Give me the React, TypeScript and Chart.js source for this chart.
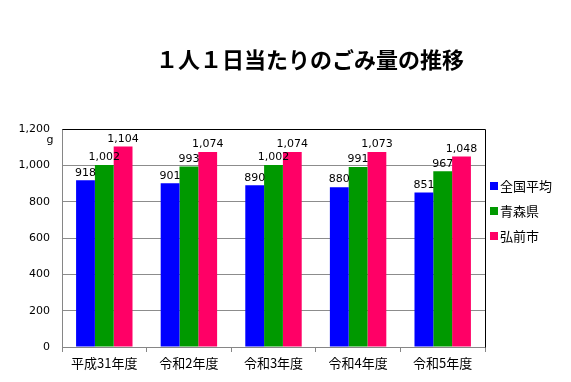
import React, { useEffect, useRef } from "react";
import { Chart, registerables } from "chart.js";

Chart.register(...registerables);

const categories = ["平成31年度", "令和2年度", "令和3年度", "令和4年度", "令和5年度"];
const national = [918, 901, 890, 880, 851];
const aomori = [1002, 993, 1002, 991, 967];
const hirosaki = [1104, 1074, 1074, 1073, 1048];
const seriesNames = ["全国平均", "青森県", "弘前市"];
const seriesColors = ["#0000FF", "#009900", "#FF0066"];
const titleText = "１人１日当たりのごみ量の推移";
const unitText = "g";

const JP = "'Noto Sans CJK JP', sans-serif";
const NUM = "'DejaVu Sans', sans-serif";

const fmt = (v: number) => v.toLocaleString("en-US");

const decorPlugin = {
  id: "decor",
  afterDatasetsDraw(chart: any) {
    const ctx = chart.ctx;
    const area = chart.chartArea;
    ctx.save();
    // data labels
    ctx.font = "11px " + NUM;
    ctx.fillStyle = "#000";
    ctx.textAlign = "center";
    ctx.textBaseline = "bottom";
    chart.data.datasets.forEach((ds: any, i: number) => {
      const meta = chart.getDatasetMeta(i);
      meta.data.forEach((el: any, j: number) => {
        ctx.fillText(fmt(ds.data[j]), el.x, el.y - 2);
      });
    });
    // top & right border
    ctx.strokeStyle = "#000";
    ctx.lineWidth = 1;
    ctx.beginPath();
    ctx.moveTo(Math.round(area.left) + 0.5, Math.round(area.top) + 0.5);
    ctx.lineTo(Math.round(area.right) + 0.5, Math.round(area.top) + 0.5);
    ctx.lineTo(Math.round(area.right) + 0.5, Math.round(area.bottom) + 0.5);
    ctx.stroke();
    // title
    ctx.font = "bold 22px " + JP;
    ctx.textAlign = "center";
    ctx.textBaseline = "middle";
    ctx.fillText(titleText, 310, 60);
    // unit
    ctx.font = "11px " + NUM;
    ctx.textAlign = "center";
    ctx.fillText(unitText, 50, 140);
    // legend
    seriesNames.forEach((n, i) => {
      const y = 186 + i * 25;
      ctx.fillStyle = seriesColors[i];
      ctx.fillRect(490, y - 4, 8, 8);
      ctx.fillStyle = "#000";
      ctx.font = "13px " + JP;
      ctx.textAlign = "left";
      ctx.fillText(n, 500, y);
    });
    ctx.restore();
  },
};

export default function App() {
  const ref = useRef<HTMLCanvasElement>(null);
  useEffect(() => {
    document.body.style.margin = "0";
    const chart = new Chart(ref.current!, {
      type: "bar",
      data: {
        labels: categories,
        datasets: [national, aomori, hirosaki].map((d, i) => ({
          label: seriesNames[i],
          data: d,
          backgroundColor: seriesColors[i],
          borderWidth: 0,
          categoryPercentage: 0.667,
          barPercentage: 1,
        })),
      },
      options: {
        responsive: false,
        animation: false,
        layout: { padding: { left: 0, right: 86, top: 129, bottom: 0 } },
        plugins: { legend: { display: false }, title: { display: false }, tooltip: { enabled: false } },
        scales: {
          x: {
            grid: { display: true, drawOnChartArea: false, drawTicks: true, tickLength: 5, color: "#868686", offset: true },
            border: { color: "#868686" },
            ticks: { color: "#000", font: { family: JP, size: 13 }, padding: 3, maxRotation: 0 },
            afterFit: (s: any) => { s.height = 35; },
          },
          y: {
            min: 0,
            max: 1200,
            ticks: { stepSize: 200, color: "#000", font: { family: NUM, size: 11 }, padding: 12, callback: (v: any) => fmt(Number(v)) },
            grid: { color: "#8c8c8c", drawTicks: false },
            border: { color: "#868686" },
            afterFit: (s: any) => { s.width = 62; },
          },
        },
      },
      plugins: [decorPlugin],
    });
    return () => chart.destroy();
  }, []);
  return <canvas ref={ref} width={571} height={382} style={{ display: "block" }} />;
}
